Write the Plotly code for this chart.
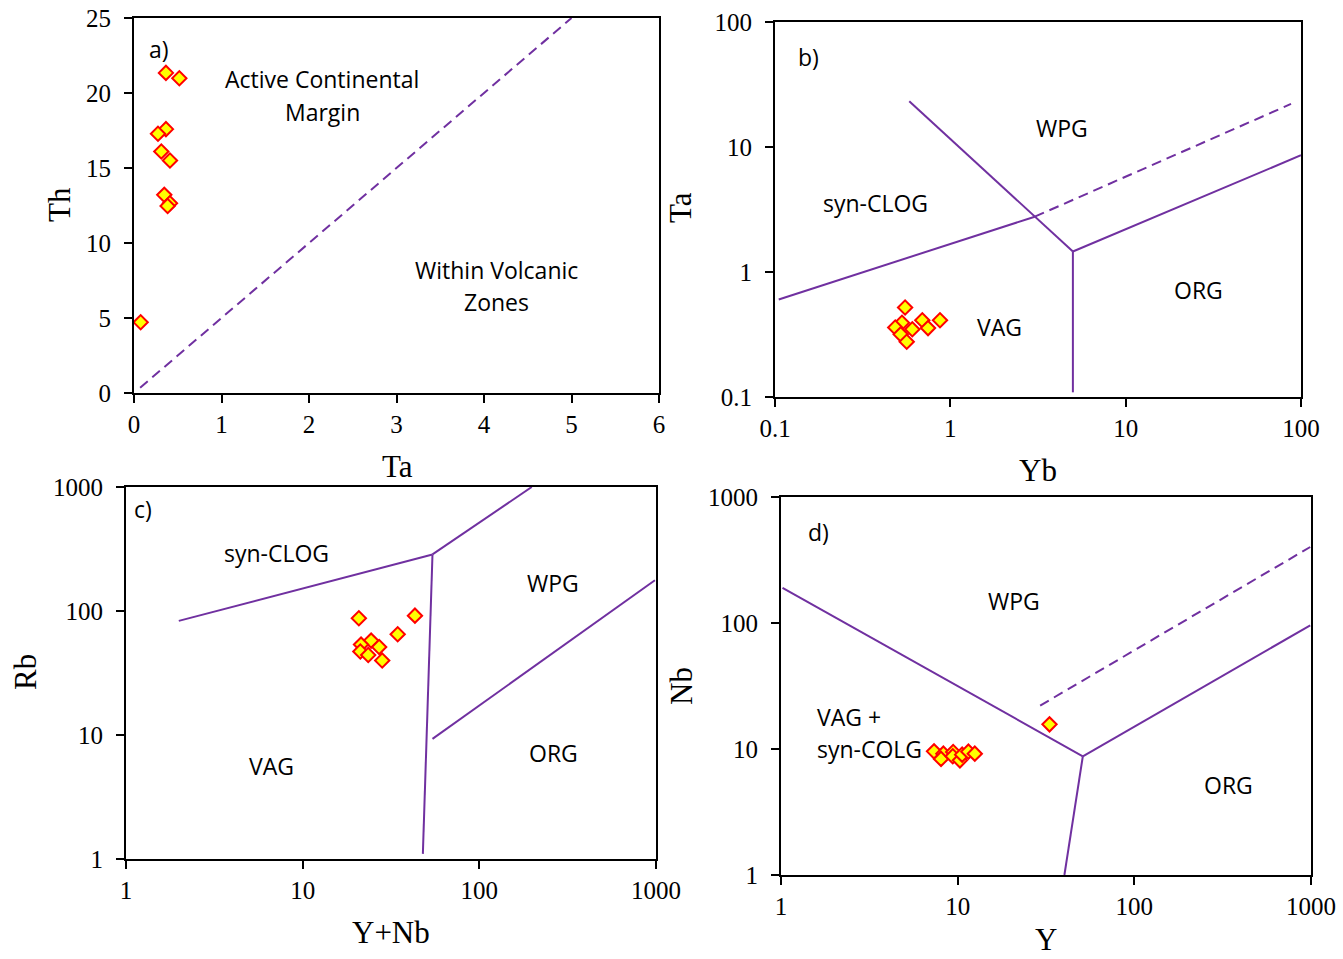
import numpy as np
import plotly.graph_objects as go

# ---------------- data ----------------
# Panel a: Th vs Ta
a_ta = [0.365, 0.518, 0.365, 0.274, 0.312, 0.411, 0.346, 0.411, 0.384, 0.076]
a_th = [21.34, 20.98, 17.59, 17.28, 16.10, 15.50, 13.21, 12.65, 12.47, 4.72]
a_div_ta = [0.07, 5.0]
a_div_th = [0.35, 25.0]

# Panel b: Ta vs Yb
b_yb = [0.552, 0.692, 0.873, 0.530, 0.485, 0.607, 0.746, 0.521, 0.564]
b_ta = [0.520, 0.411, 0.411, 0.393, 0.360, 0.348, 0.356, 0.317, 0.277]
b_syncolg_yb = [0.105, 3.03]
b_syncolg_ta = [0.603, 2.77]
b_dash_yb = [3.03, 87.7]
b_dash_ta = [2.77, 22.1]
b_wpg_yb = [0.583, 5.0]
b_wpg_ta = [23.2, 1.46]
b_vert_yb = [5.0, 5.0]
b_vert_ta = [1.46, 0.109]
b_org_yb = [5.0, 100.0]
b_org_ta = [1.46, 8.59]

# Panel c: Rb vs Y+Nb
c_ynb = [20.8, 43.2, 34.5, 24.4, 21.4, 27.1, 21.2, 23.5, 28.2]
c_rb = [87.4, 91.7, 64.9, 57.7, 53.6, 51.3, 47.1, 44.2, 39.9]
c_syncolg_ynb = [1.99, 54.3]
c_syncolg_rb = [83.2, 286.0]
c_upper_ynb = [54.3, 198.0]
c_upper_rb = [286.0, 1000.0]
c_vert_ynb = [54.3, 47.9]
c_vert_rb = [286.0, 1.1]
c_org_ynb = [54.3, 986.0]
c_org_rb = [9.3, 177.0]

# Panel d: Nb vs Y
d_y = [33.1, 7.35, 8.3, 8.05, 9.43, 9.38, 10.3, 10.6, 11.5, 12.5]
d_nb = [15.7, 9.58, 9.18, 8.34, 9.46, 8.75, 8.13, 9.02, 9.53, 9.18]
d_wpg_y = [1.02, 51.1]
d_wpg_nb = [190.0, 8.75]
d_org_y = [51.1, 990.0]
d_org_nb = [8.75, 95.8]
d_vert_y = [51.1, 40.2]
d_vert_nb = [8.75, 1.0]
d_dash_y = [29.3, 990.0]
d_dash_nb = [22.1, 401.0]

# tick labels
a_xticks = [0, 1, 2, 3, 4, 5, 6]
a_yticks = [0, 5, 10, 15, 20, 25]
b_ticks = [0.1, 1, 10, 100]
b_ticktext = ["0.1", "1", "10", "100"]
cd_ticks = [1, 10, 100, 1000]
cd_ticktext = ["1", "10", "100", "1000"]

# ---------------- styling ----------------
W, H = 1343, 959
PURPLE = "#7030A0"
SANS = "Open Sans"
SERIF = "Liberation Serif"
LINE_W = 2
MARK = dict(symbol="diamond", size=11, color="#FFFF00", line=dict(color="#FF0000", width=2))

fig = go.Figure()


def px_dom(x0, x1, y0, y1):
    return [x0 / W, x1 / W], [1 - y1 / H, 1 - y0 / H]


doms = {
    "a": px_dom(134, 659, 18, 393),
    "b": px_dom(775, 1301, 22, 397),
    "c": px_dom(126, 656, 487, 859),
    "d": px_dom(781, 1311, 497, 875),
}
axis_ids = {"a": ("x", "y"), "b": ("x2", "y2"), "c": ("x3", "y3"), "d": ("x4", "y4")}


def line(panel, xs, ys, dash="solid"):
    xa, ya = axis_ids[panel]
    fig.add_trace(go.Scatter(x=xs, y=ys, xaxis=xa, yaxis=ya, mode="lines",
                             line=dict(color=PURPLE, width=LINE_W, dash=dash),
                             hoverinfo="skip", showlegend=False))


def pts(panel, xs, ys):
    xa, ya = axis_ids[panel]
    fig.add_trace(go.Scatter(x=xs, y=ys, xaxis=xa, yaxis=ya, mode="markers",
                             marker=MARK, showlegend=False))


DASH = "10px,6px"
# panel a
line("a", a_div_ta, a_div_th, DASH)
pts("a", a_ta, a_th)
# panel b
line("b", b_syncolg_yb, b_syncolg_ta)
line("b", b_dash_yb, b_dash_ta, DASH)
line("b", b_wpg_yb, b_wpg_ta)
line("b", b_vert_yb, b_vert_ta)
line("b", b_org_yb, b_org_ta)
pts("b", b_yb, b_ta)
# panel c
line("c", c_syncolg_ynb, c_syncolg_rb)
line("c", c_upper_ynb, c_upper_rb)
line("c", c_vert_ynb, c_vert_rb)
line("c", c_org_ynb, c_org_rb)
pts("c", c_ynb, c_rb)
# panel d
line("d", d_wpg_y, d_wpg_nb)
line("d", d_org_y, d_org_nb)
line("d", d_vert_y, d_vert_nb)
line("d", d_dash_y, d_dash_nb, DASH)
pts("d", d_y, d_nb)

common = dict(showline=True, linecolor="black", linewidth=2, mirror=True,
              ticks="outside", ticklen=8, tickwidth=2, tickcolor="black",
              showgrid=False, zeroline=False,
              tickfont=dict(family=SERIF, size=25, color="black"))
xcommon = dict(common, ticklabelstandoff=0)
ycommon = dict(common, ticklabelstandoff=8)

lay = dict(width=W, height=H, margin=dict(l=0, r=0, t=0, b=0, autoexpand=False),
           paper_bgcolor="white", plot_bgcolor="white", showlegend=False)

# panel a axes
lay["xaxis"] = dict(xcommon, domain=doms["a"][0], range=[0, 6], tickvals=a_xticks, anchor="y")
lay["yaxis"] = dict(ycommon, domain=doms["a"][1], range=[0, 25], tickvals=a_yticks, anchor="x")
# panel b
lay["xaxis2"] = dict(xcommon, domain=doms["b"][0], type="log", range=[-1, 2],
                     tickvals=b_ticks, ticktext=b_ticktext, anchor="y2")
lay["yaxis2"] = dict(ycommon, domain=doms["b"][1], type="log", range=[-1, 2],
                     tickvals=b_ticks, ticktext=b_ticktext, anchor="x2")
# panel c
lay["xaxis3"] = dict(xcommon, domain=doms["c"][0], type="log", range=[0, 3],
                     tickvals=cd_ticks, ticktext=cd_ticktext, anchor="y3")
lay["yaxis3"] = dict(ycommon, domain=doms["c"][1], type="log", range=[0, 3],
                     tickvals=cd_ticks, ticktext=cd_ticktext, anchor="x3")
# panel d
lay["xaxis4"] = dict(xcommon, domain=doms["d"][0], type="log", range=[0, 3],
                     tickvals=cd_ticks, ticktext=cd_ticktext, anchor="y4")
lay["yaxis4"] = dict(ycommon, domain=doms["d"][1], type="log", range=[0, 3],
                     tickvals=cd_ticks, ticktext=cd_ticktext, anchor="x4")

fig.update_layout(**lay)

ann = []
SANS_FONT = dict(family=SANS, size=23, color="black")


def txt(panel, x, y, text, logx=False, logy=False, xanchor="center"):
    xa, ya = axis_ids[panel]
    ann.append(dict(x=np.log10(x) if logx else x, y=np.log10(y) if logy else y,
                    xref=xa, yref=ya, text=text, showarrow=False,
                    font=SANS_FONT, xanchor=xanchor, yanchor="middle"))


# panel a labels
txt("a", 0.28, 22.9, "a)")
txt("a", 2.15, 20.9, "Active Continental")
txt("a", 2.15, 18.7, "Margin")
txt("a", 4.14, 8.2, "Within Volcanic")
txt("a", 4.14, 6.1, "Zones")
# panel b
txt("b", 0.155, 52, "b)", True, True)
txt("b", 4.33, 14.2, "WPG", True, True)
txt("b", 0.372, 3.54, "syn-CLOG", True, True)
txt("b", 26.1, 0.714, "ORG", True, True)
txt("b", 1.91, 0.365, "VAG", True, True)
# panel c
txt("c", 1.24, 665, "c)", True, True)
txt("c", 7.14, 294, "syn-CLOG", True, True)
txt("c", 262, 167, "WPG", True, True)
txt("c", 6.68, 5.6, "VAG", True, True)
txt("c", 262, 7.13, "ORG", True, True)
# panel d
txt("d", 1.63, 527, "d)", True, True)
txt("d", 20.8, 150, "WPG", True, True)
txt("d", 1.56, 17.8, "VAG +", True, True, xanchor="left")
txt("d", 1.56, 10.06, "syn-COLG", True, True, xanchor="left")
txt("d", 343, 5.15, "ORG", True, True)

# axis titles (paper coordinates)
TITLE_FONT = dict(family=SERIF, size=31, color="black")


def ttl(xp, yp, text, rot=0):
    ann.append(dict(x=xp / W, y=1 - yp / H, xref="paper", yref="paper", text=text,
                    showarrow=False, font=TITLE_FONT, textangle=rot,
                    xanchor="center", yanchor="middle"))


ttl(60, 205, "Th", -90)
ttl(397, 466, "Ta")
ttl(681, 208, "Ta", -90)
ttl(1038, 470, "Yb")
ttl(25, 672, "Rb", -90)
ttl(391, 932, "Y+Nb")
ttl(681, 686, "Nb", -90)
ttl(1046, 939, "Y")

fig.update_layout(annotations=ann)
fig.write_html("out.html", config={"displayModeBar": False},
               post_script="document.body.style.margin='0';document.body.style.overflow='hidden';")
